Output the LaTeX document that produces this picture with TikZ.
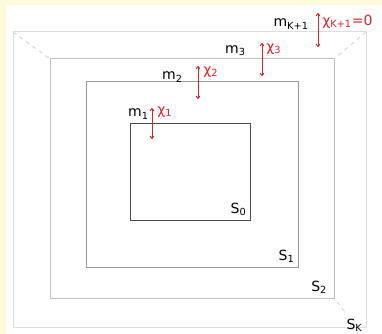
\documentclass[tikz,border=0pt]{standalone}
\usepackage{fontspec}
\setmainfont{DejaVu Sans}
\usetikzlibrary{arrows.meta, positioning}
\definecolor{paper}{RGB}{255,250,220}
\definecolor{chired}{RGB}{214,36,40}
\tikzset{
  lbl/.style={font=\fontsize{10.5}{12}\selectfont, inner sep=0pt},
  chi/.style={lbl, text=chired},
  gap/.style={chired, line width=0.7pt, {To[length=2.5pt,width=3.5pt]}-{To[length=2.5pt,width=3.5pt]}},
  diag/.style={black!18, dash pattern=on 3pt off 3pt, line width=0.6pt},
}

\begin{document}
\begin{tikzpicture}[x=0.75pt,y=-0.75pt]
  \useasboundingbox (0,0) rectangle (382,334);
  \fill[paper] (0,0) rectangle (382,334);
  \fill[white] (6,5) rectangle (382,334);

  % surfaces
  \draw[black!13, line width=0.75pt] (13,32) coordinate (k nw) rectangle (366,328) coordinate (k se);
  \draw[black!25, line width=0.75pt] (50,59) coordinate (s2 nw) rectangle (334,299) coordinate (s2 se);
  \draw[black!40, line width=0.75pt] (86,82) coordinate (s1 nw) rectangle (298,268) coordinate (s1 se);
  \draw[black!70, line width=0.75pt] (130,124) coordinate (s0 nw) rectangle (250,221) coordinate (s0 se);
  \coordinate (k ne) at (366,32);
  \coordinate (s2 ne) at (334,59);

  % dashed corners
  \draw[diag] (k nw) -- (s2 nw);
  \draw[diag] (k ne) -- (s2 ne);
  \coordinate (sk tail) at (345,312);
  \draw[diag] (s2 se) ++(3,3) coordinate (s2 out) -- (sk tail);

  % surface labels
  \node[lbl, above left=4pt and 2.5pt of s0 se] (S0) {S\textsubscript{0}};
  \node[lbl, above left=4pt and 2.5pt of s1 se] (S1) {S\textsubscript{1}};
  \node[lbl, above left=4pt and 5pt of s2 se] (S2) {S\textsubscript{2}};
  \node[lbl, below right=5pt and 1pt of sk tail] (SK) {S\textsubscript{K}};

  % thicknesses
  \coordinate (a1 top) at (152,108);
  \coordinate (a1 bot) at (152,139);
  \coordinate (a2 top) at (198,66);
  \coordinate (a2 bot) at (198,99);
  \coordinate (a3 top) at (262,43);
  \coordinate (a3 bot) at (262,76);
  \coordinate (ak top) at (318,13);
  \coordinate (ak bot) at (318,47);
  \draw[gap] (a1 top) -- (a1 bot);
  \draw[gap] (a2 top) -- (a2 bot);
  \draw[gap] (a3 top) -- (a3 bot);
  \draw[gap] (ak top) -- (ak bot);

  \node[lbl, anchor=east] (m1) at (149,114) {m\textsubscript{1}};
  \node[chi, anchor=west] (chi1) at (157,112) {χ\textsubscript{1}};
  \node[lbl, anchor=east] (m2) at (183,77) {m\textsubscript{2}};
  \node[chi, anchor=west] (chi2) at (203,72) {χ\textsubscript{2}};
  \node[lbl, anchor=east] (m3) at (246,51) {m\textsubscript{3}};
  \node[chi, anchor=west] (chi3) at (266,49) {χ\textsubscript{3}};
  \node[lbl, anchor=east] (mk) at (309,24) {m\textsubscript{K+1}};
  \node[chi, anchor=west] (chik) at (322,22) {χ\textsubscript{K+1}=0};
\end{tikzpicture}
\end{document}
